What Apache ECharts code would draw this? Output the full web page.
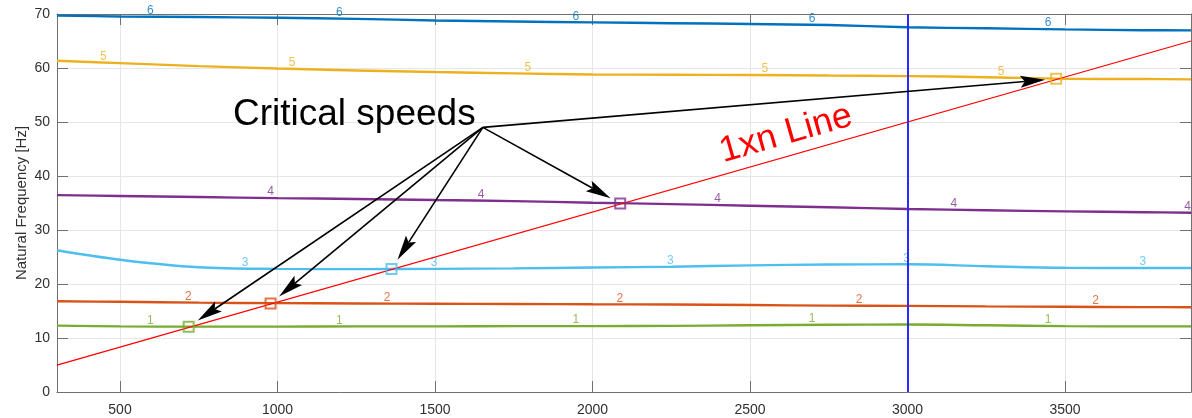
<!DOCTYPE html>
<html>
<head>
<meta charset="utf-8">
<title>Campbell diagram</title>
<script src="https://cdn.jsdelivr.net/npm/echarts@6/dist/echarts.min.js"></script>
<style>
  html, body { margin: 0; padding: 0; background: #ffffff; }
  #chart { width: 1192px; height: 418px; }
</style>
</head>
<body>
<div id="chart"></div>
<script>
// Rotor speed samples (rpm) and natural frequency of each mode (Hz)
const speeds = [300, 500, 750, 1000, 1250, 1500, 1750, 2000, 2250, 2500, 2750, 3000, 3250, 3500, 3750, 3900];
const mode1 = [12.3, 12.15, 12.1, 12.1, 12.15, 12.15, 12.2, 12.2, 12.25, 12.35, 12.45, 12.5, 12.35, 12.2, 12.15, 12.15];
const mode2 = [16.8, 16.7, 16.55, 16.45, 16.4, 16.35, 16.3, 16.25, 16.2, 16.1, 16.0, 15.95, 15.85, 15.78, 15.72, 15.7];
const mode3 = [26.25, 24.5, 23.1, 22.8, 22.75, 22.8, 22.9, 23.05, 23.2, 23.45, 23.6, 23.65, 23.3, 23.0, 22.95, 22.95];
const mode4 = [36.45, 36.3, 36.1, 35.9, 35.75, 35.55, 35.35, 35.05, 34.8, 34.5, 34.2, 33.9, 33.65, 33.45, 33.3, 33.2];
const mode5 = [61.35, 60.9, 60.35, 59.9, 59.55, 59.25, 59.0, 58.8, 58.75, 58.7, 58.6, 58.5, 58.3, 58.0, 57.95, 57.9];
const mode6 = [69.7, 69.55, 69.45, 69.3, 69.1, 68.8, 68.6, 68.45, 68.3, 68.15, 67.95, 67.55, 67.35, 67.15, 67.0, 66.97];

const modeNames = ['1', '2', '3', '4', '5', '6'];
const modeColors = ['#77AC30', '#D95319', '#4DBEEE', '#7E2F8E', '#EDB120', '#0072BD'];
// Speeds at which each mode number is written along its curve
const modeLabelSpeeds = [
  [596, 1196, 1947, 2697, 3446],
  [717, 1348, 2087, 2846, 3597],
  [897, 1497, 2247, 2997, 3747],
  [978, 1646, 2397, 3147, 3889],
  [447, 1046, 1795, 2547, 3297],
  [596, 1196, 1947, 2697, 3446]
];

// 1x running speed excitation line (Hz = rpm / 60)
const runLine = [[300, 5], [3900, 65]];

// Critical speeds: crossings of the 1xn line with modes 1..5
const criticalSpeeds = [718, 978, 1362, 2088, 3472];
const criticalFreqs = [12.1, 16.4, 22.8, 34.9, 58.0];
const criticalModes = [0, 1, 2, 3, 4];

// Point the callout arrows start from (rpm, Hz)
const calloutAnchor = [1652, 49.0];

// Operating speed marker (rpm)
const operatingSpeed = 3000;

const xTicks = [500, 1000, 1500, 2000, 2500, 3000, 3500];

const modes = [mode1, mode2, mode3, mode4, mode5, mode6];
const FONT = "'Liberation Sans', Arial, Helvetica, sans-serif";
const AXIS_GREY = '#707070';
const TEXT_GREY = '#303030';
const GRID_GREY = '#e6e6e6';

// linear lookup on a mode curve, used to seat the mode-number labels on it
function valueAt(curve, s) {
  for (let i = 0; i < speeds.length - 1; i++) {
    if (s >= speeds[i] && s <= speeds[i + 1]) {
      const t = (s - speeds[i]) / (speeds[i + 1] - speeds[i]);
      return curve[i] + t * (curve[i + 1] - curve[i]);
    }
  }
  return curve[curve.length - 1];
}

const series = [];

modes.forEach((curve, m) => {
  series.push({
    name: 'Mode ' + modeNames[m],
    type: 'line',
    data: speeds.map((s, i) => [s, curve[i]]),
    smooth: 0.35,
    showSymbol: false,
    symbol: 'none',
    lineStyle: { color: modeColors[m], width: 2.4 },
    z: 3,
    silent: true
  });
  series.push({
    name: 'Mode label ' + modeNames[m],
    type: 'scatter',
    data: modeLabelSpeeds[m].map(s => [s, valueAt(curve, s)]),
    symbolSize: 0,
    label: {
      show: true,
      formatter: modeNames[m],
      position: 'top',
      distance: 0,
      color: modeColors[m],
      fontFamily: FONT,
      fontSize: 12
    },
    z: 4,
    silent: true
  });
});

// 1xn excitation line with the operating speed marker
series.push({
  name: '1xn',
  type: 'line',
  data: runLine,
  showSymbol: false,
  symbol: 'none',
  lineStyle: { color: '#ff0000', width: 1.3 },
  z: 5,
  silent: true,
  markLine: {
    silent: true,
    symbol: ['none', 'none'],
    label: { show: false },
    lineStyle: { color: '#2a2aff', width: 2, type: 'solid' },
    data: [{ xAxis: operatingSpeed }],
    z: 6
  }
});

// Critical speed markers (hollow squares in the colour of the mode)
series.push({
  name: 'Critical speeds',
  type: 'scatter',
  data: criticalSpeeds.map((s, i) => ({
    value: [s, criticalFreqs[i]],
    itemStyle: { borderColor: modeColors[criticalModes[i]] }
  })),
  symbol: 'rect',
  symbolSize: 10,
  itemStyle: { color: 'rgba(0,0,0,0)', borderWidth: 2 },
  z: 7,
  silent: true
});

// Callout arrows from the text to each critical speed
series.push({
  name: 'Callout arrows',
  type: 'custom',
  coordinateSystem: 'cartesian2d',
  data: criticalSpeeds.map((s, i) => [calloutAnchor[0], calloutAnchor[1], s, criticalFreqs[i]]),
  encode: { x: [0, 2], y: [1, 3] },
  z: 8,
  silent: true,
  renderItem(params, api) {
    const p0 = api.coord([api.value(0), api.value(1)]);
    const p1 = api.coord([api.value(2), api.value(3)]);
    const dx = p1[0] - p0[0], dy = p1[1] - p0[1];
    const len = Math.hypot(dx, dy);
    const ux = dx / len, uy = dy / len;
    const nx = -uy, ny = ux;
    const gap = 11, headLen = 25, headHalf = 6;
    const tip = [p1[0] - ux * gap, p1[1] - uy * gap];
    const back = [tip[0] - ux * headLen, tip[1] - uy * headLen];
    const notch = [tip[0] - ux * headLen * 0.82, tip[1] - uy * headLen * 0.82];
    return {
      type: 'group',
      children: [
        {
          type: 'line',
          shape: { x1: p0[0], y1: p0[1], x2: notch[0], y2: notch[1] },
          style: { stroke: '#000000', lineWidth: 1.6 }
        },
        {
          type: 'polygon',
          shape: {
            points: [
              tip,
              [back[0] + nx * headHalf, back[1] + ny * headHalf],
              notch,
              [back[0] - nx * headHalf, back[1] - ny * headHalf]
            ]
          },
          style: { fill: '#000000' }
        }
      ]
    };
  }
});

const chart = echarts.init(document.getElementById('chart'), null, { renderer: 'canvas' });

const xAxisBase = {
  type: 'value',
  min: 300,
  max: 3900,
  axisLine: { show: true, onZero: false, lineStyle: { color: AXIS_GREY, width: 1 } },
  axisTick: { show: true, inside: true, length: 11, customValues: xTicks, lineStyle: { color: AXIS_GREY } }
};

chart.setOption({
  animation: false,
  backgroundColor: '#ffffff',
  textStyle: { fontFamily: FONT },
  grid: { left: 57, right: 1, top: 14, bottom: 26, containLabel: false },
  xAxis: [
    Object.assign({}, xAxisBase, {
      position: 'bottom',
      axisLabel: {
        show: true,
        customValues: xTicks,
        formatter: v => String(v),
        color: TEXT_GREY,
        fontSize: 14,
        margin: 11,
        fontFamily: FONT
      },
      splitLine: { show: true, lineStyle: { color: GRID_GREY, width: 1 } }
    }),
    Object.assign({}, xAxisBase, {
      position: 'top',
      axisLabel: { show: false },
      splitLine: { show: false }
    })
  ],
  yAxis: [
    {
      type: 'value',
      min: 0,
      max: 70,
      interval: 10,
      position: 'left',
      name: 'Natural Frequency [Hz]',
      nameLocation: 'middle',
      nameGap: 28,
      nameMoveOverlap: false,
      nameTextStyle: { color: TEXT_GREY, fontSize: 15, fontFamily: FONT },
      axisLine: { show: true, onZero: false, lineStyle: { color: AXIS_GREY, width: 1 } },
      axisTick: { show: true, inside: true, length: 11, lineStyle: { color: AXIS_GREY } },
      axisLabel: { color: TEXT_GREY, fontSize: 14, margin: 7, fontFamily: FONT },
      splitLine: { show: true, lineStyle: { color: GRID_GREY, width: 1 } }
    },
    {
      type: 'value',
      min: 0,
      max: 70,
      interval: 10,
      position: 'right',
      axisLine: { show: true, onZero: false, lineStyle: { color: AXIS_GREY, width: 1 } },
      axisTick: { show: true, inside: true, length: 11, lineStyle: { color: AXIS_GREY } },
      axisLabel: { show: false },
      splitLine: { show: false }
    }
  ],
  graphic: [
    {
      type: 'text',
      left: 233,
      top: 96,
      z: 20,
      style: {
        text: 'Critical speeds',
        fill: '#000000',
        fontFamily: FONT,
        fontSize: 37
      }
    },
    {
      type: 'text',
      x: 786,
      y: 134,
      rotation: 16 * Math.PI / 180,
      z: 20,
      style: {
        text: '1xn Line',
        fill: '#ff0000',
        fontFamily: FONT,
        fontSize: 36,
        align: 'center',
        verticalAlign: 'middle'
      }
    }
  ],
  series: series
});
</script>
</body>
</html>
